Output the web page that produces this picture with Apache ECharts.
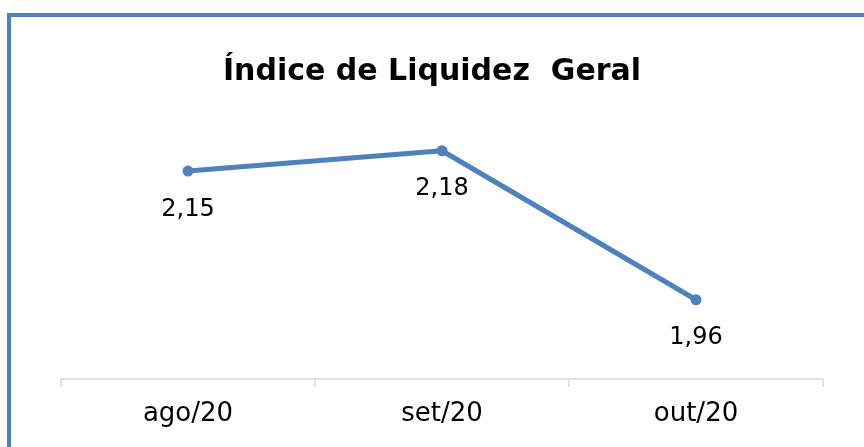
<!DOCTYPE html>
<html>
<head>
<meta charset="utf-8">
<script src="https://cdn.jsdelivr.net/npm/echarts@6/dist/echarts.min.js"></script>
<style>
html,body{margin:0;padding:0;background:#fff;}
#chart{width:864px;height:447px;}
</style>
</head>
<body>
<div id="chart"></div>
<script>
var categories = ['ago/20', 'set/20', 'out/20'];
var values = [2.15, 2.18, 1.96];
var titleText = 'Índice de Liquidez  Geral';

var FONT = 'DejaVu Sans';
var chart = echarts.init(document.getElementById('chart'), null, {renderer: 'canvas'});
chart.setOption({
  backgroundColor: '#ffffff',
  animation: false,
  title: {
    text: titleText,
    left: 'center',
    top: 52,
    textStyle: {fontFamily: FONT, fontWeight: 'bold', fontSize: 30, color: '#000000'}
  },
  graphic: [{
    type: 'rect',
    shape: {x: 9, y: 15, width: 1000, height: 1000},
    style: {fill: 'none', stroke: '#4F81BD', lineWidth: 4},
    silent: true
  }],
  grid: {left: 61, right: 41, top: 137.2, bottom: 68},
  xAxis: {
    type: 'category',
    data: categories,
    boundaryGap: true,
    axisLine: {lineStyle: {color: '#D9D9D9', width: 1.5}},
    axisTick: {show: true, length: 8, lineStyle: {color: '#D9D9D9', width: 1.5}},
    axisLabel: {margin: 22, fontFamily: FONT, fontSize: 26, color: '#000000'}
  },
  yAxis: {
    type: 'value',
    min: 1.843,
    max: 2.2,
    show: false,
    splitLine: {show: false}
  },
  series: [{
    type: 'line',
    data: values,
    symbol: 'circle',
    symbolSize: 11,
    itemStyle: {color: '#4F81BD'},
    lineStyle: {color: '#4F81BD', width: 5},
    label: {
      show: true,
      position: 'bottom',
      distance: 21,
      fontFamily: FONT,
      fontSize: 24,
      color: '#000000',
      formatter: function (p) { return p.value.toFixed(2).replace('.', ','); }
    }
  }]
});
</script>
</body>
</html>
